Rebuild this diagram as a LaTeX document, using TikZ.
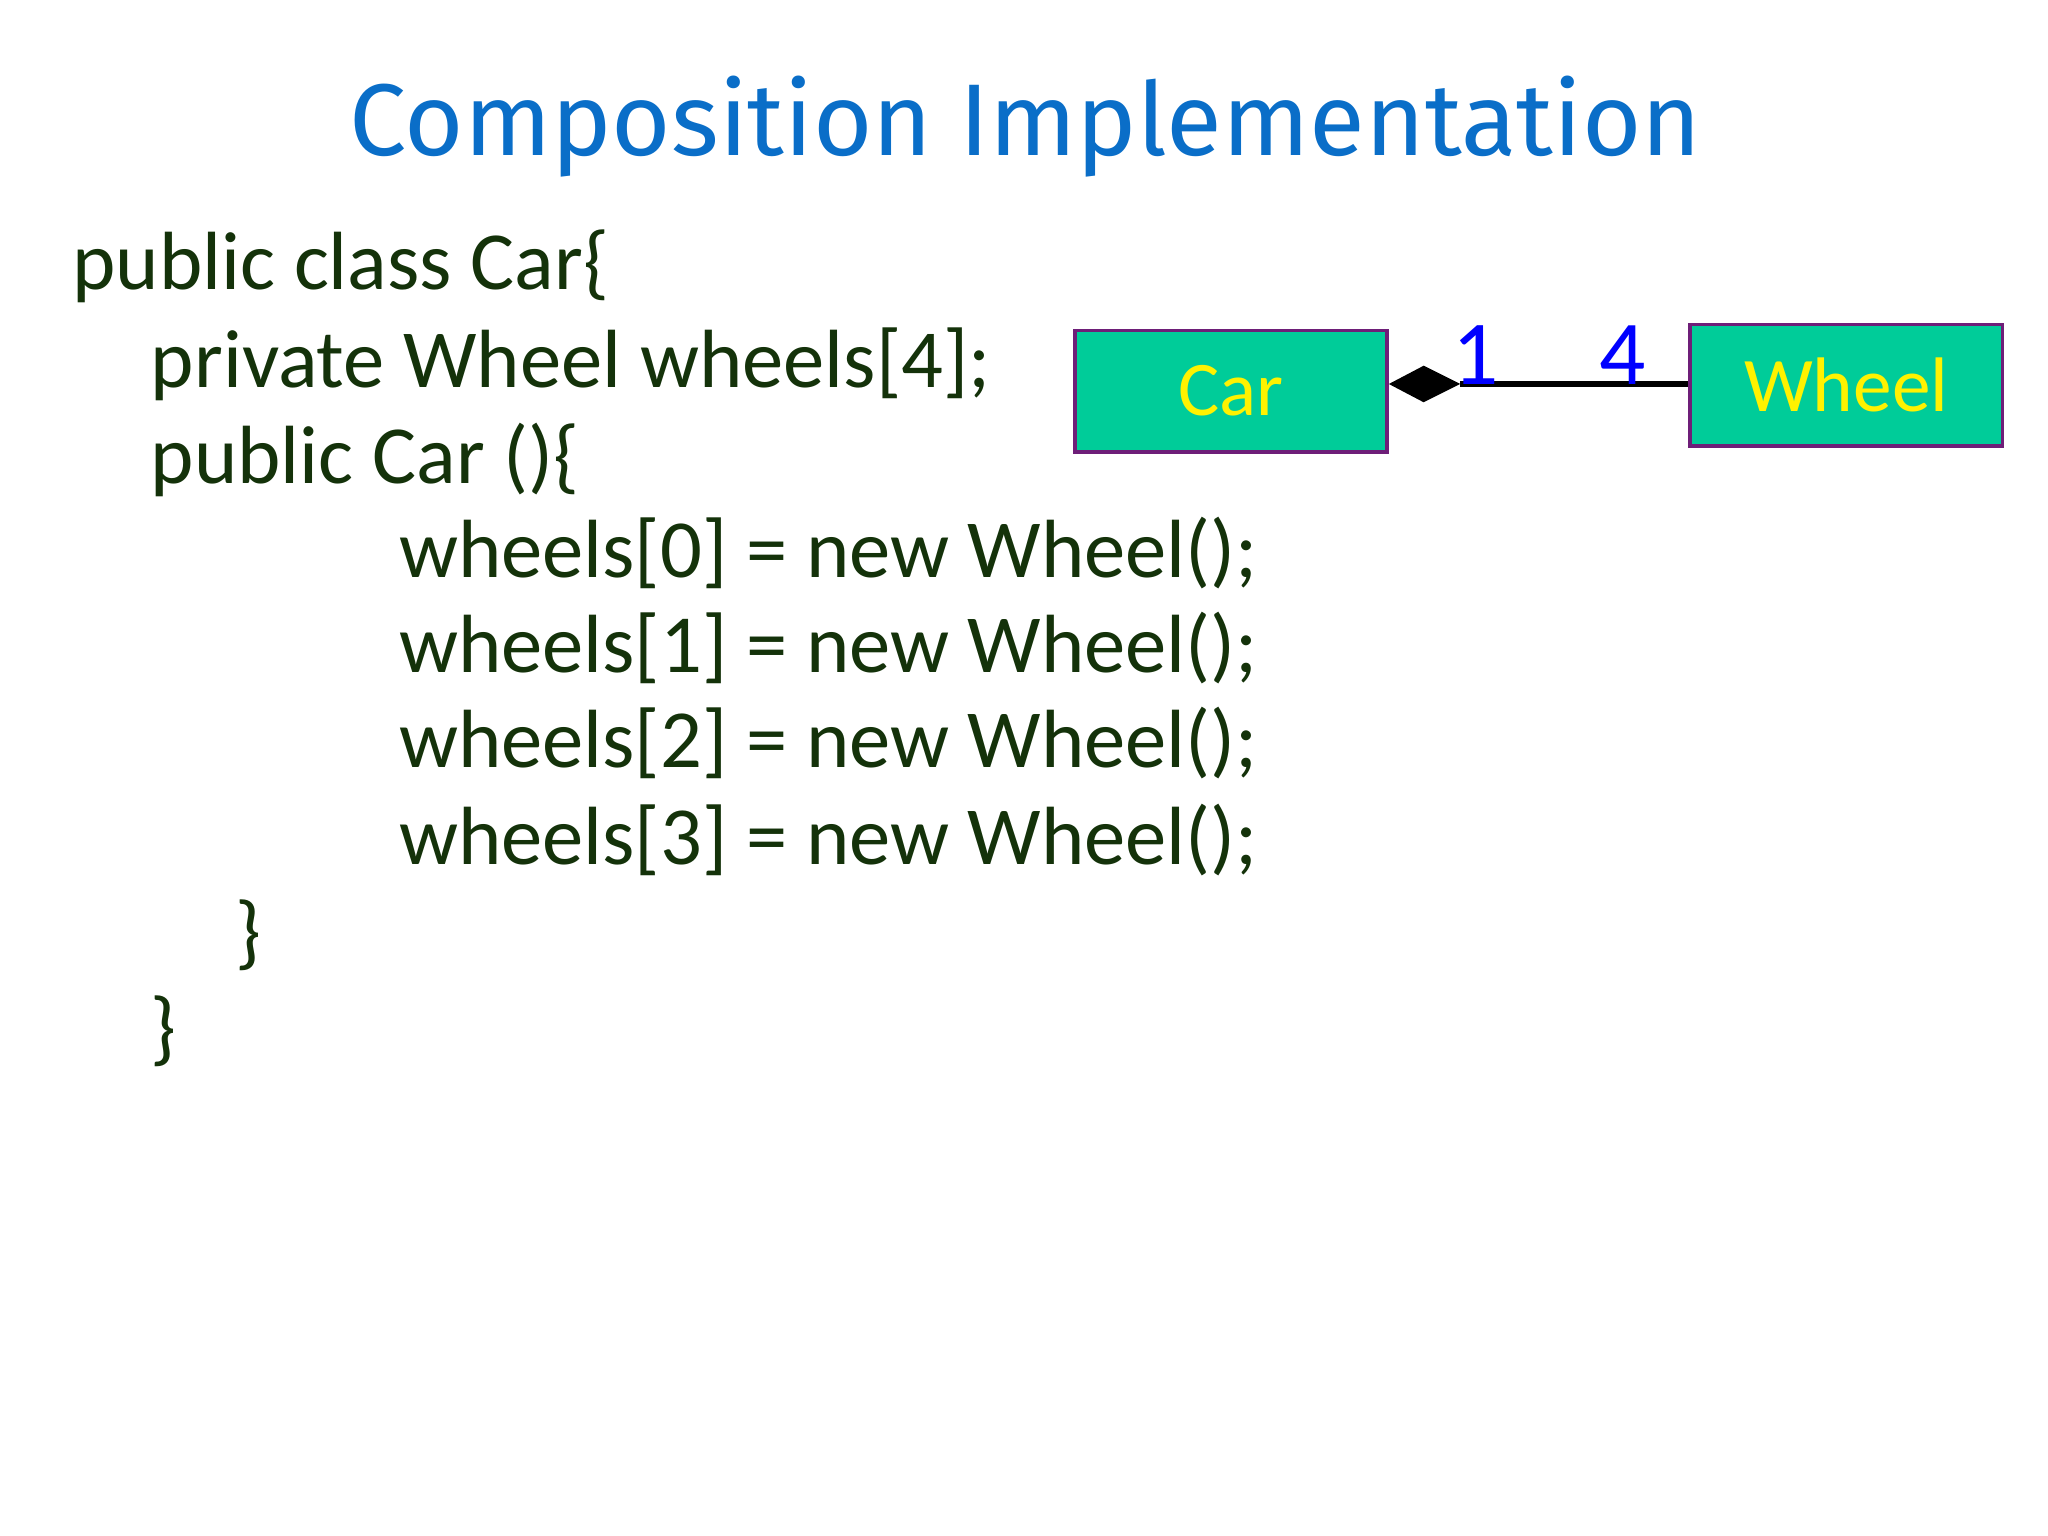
\documentclass[tikz,border=0pt]{standalone}
\usepackage{fontspec}
\setmainfont{Carlito}
\newfontfamily\titlefont{Fira Sans}
\usetikzlibrary{shapes.geometric}
\definecolor{codegreen}{RGB}{20,50,10}
\definecolor{titleblue}{RGB}{10,110,200}
\definecolor{boxfill}{RGB}{0,204,153}
\definecolor{boxborder}{RGB}{110,30,120}
\begin{document}
\begin{tikzpicture}[x=0.01306cm,y=-0.01306cm,
  code/.style={anchor=base west,inner sep=0,text=codegreen,font=\fontsize{23.5}{26}\selectfont},
  cls/.style={draw=boxborder,line width=1pt,fill=boxfill,minimum width=239*0.01306cm,minimum height=93*0.01306cm,inner sep=0,text=yellow,font=\fontsize{22}{24}\selectfont},
  mult/.style={text=blue,font=\fontsize{26}{28}\selectfont,inner sep=0}]
\useasboundingbox (0,0) rectangle (1568,1176);
\node[text=titleblue,font=\titlefont\fontsize{29}{32}\selectfont] (title) at (785,97) {Composition Implementation};
\node[code] (l1) at (55,222) {public class Car\{};
\node[code] (l2) at (115,297) {private Wheel wheels[4];};
\node[code] (l3) at (115,370) {public Car ()\{};
\node[code] (l4) at (305,442) {wheels[0] = new Wheel();};
\node[code] (l5) at (305,515) {wheels[1] = new Wheel();};
\node[code] (l6) at (305,588) {wheels[2] = new Wheel();};
\node[code] (l7) at (305,662) {wheels[3] = new Wheel();};
\node[code] (l8) at (180,735) {\}};
\node[code] (l9) at (115,808) {\}};
\node[cls] (car) at (942.5,299.5) {Car};
\node[cls] (wheel) at (1413.5,295) {Wheel};
\coordinate (dtip) at (1118,294);
\draw[line width=1.5pt] (dtip) -- (wheel.west|-dtip);
\fill (car.east|-dtip) -- (1090,280) -- (dtip) -- (1090,308) -- cycle;
\node[mult] (m1) at (1130,272) {1};
\node[mult] (m4) at (1242,272) {4};
\end{tikzpicture}
\end{document}
